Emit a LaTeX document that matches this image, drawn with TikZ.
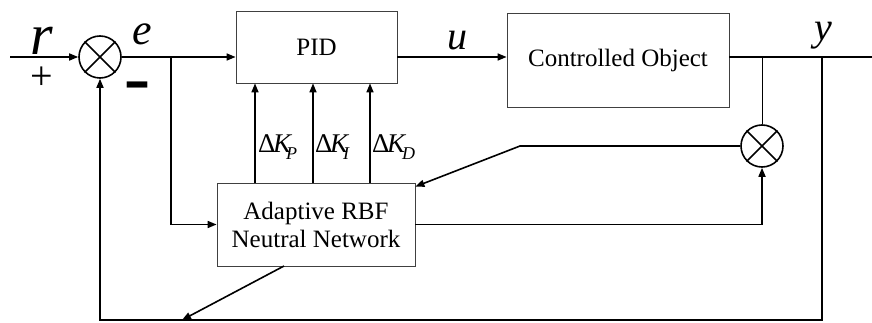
\documentclass[tikz,border=0pt]{standalone}
\usepackage{fontspec}
\setmainfont{Liberation Serif}
\usetikzlibrary{arrows.meta,calc}
\begin{document}
\begin{tikzpicture}[x=1pt,y=-1pt,
  blk/.style={draw=black!75,line width=0.8pt,inner sep=0pt,align=center,font=\fontsize{25}{28}\selectfont},
  sumc/.style={circle,draw,line width=1.6pt,minimum size=42pt,inner sep=0pt},
  sig/.style={line width=1.6pt},
  arr/.style={sig,-{Triangle[length=9pt,width=7pt]}},
  lab/.style={inner sep=0pt,font=\fontsize{40}{44}\selectfont\itshape},
  klab/.style={inner sep=0pt,anchor=west,font=\fontsize{27}{32}\selectfont}]
\useasboundingbox (0,0) rectangle (872,323);
% blocks
\node[blk,minimum width=161pt,minimum height=72pt] (pid) at (316.5,47) {PID};
\node[blk,minimum width=222pt,minimum height=94pt] (co) at (618,60) {Controlled Object};
\node[blk,minimum width=198pt,minimum height=83pt] (nn) at (316,224.5) {Adaptive RBF\\Neutral Network};
\node[sumc] (s1) at (100,57) {};
\node[sumc] (s2) at (762,146) {};
\draw[line width=1.6pt] (s1.north west) -- (s1.south east) (s1.north east) -- (s1.south west);
\draw[line width=1.6pt] (s2.north west) -- (s2.south east) (s2.north east) -- (s2.south west);
% coordinates
\coordinate (in) at (10,57);
\coordinate (b1) at (171,57);
\coordinate (b2) at (762,57);
\coordinate (b3) at (822,57);
\coordinate (out) at (872,57);
\coordinate (bb) at (822,320);
\coordinate (bl) at (100,320);
\coordinate (fb) at (182,320);
\coordinate (bend) at (520,146);
% signals
\draw[arr] (in) -- (s1.west);
\draw[arr] (s1.east) -- (s1.east -| pid.west);
\draw[arr] (b1) |- (nn.west);
\draw[arr] (pid.east |- s1) -- (s1 -| co.west);
\draw[sig] (co.east |- s1) -- (out);
\draw[line width=0.8pt] (b2) -- (s2.north);
\draw[arr] (b3) -- (bb) -- (bl) -- (s1.south);
\draw[arr] (284,266) -- (fb);
\foreach \x in {255,313,370} \draw[arr] (nn.north -| \x,0) -- (pid.south -| \x,0);
\draw[arr] (s2.west) -- (bend) -- ([yshift=-4pt]nn.north east);
\draw[arr] (nn.east) -- (nn.east -| s2) -- (s2.south);
% labels
\node[lab,font=\fontsize{58}{64}\selectfont\itshape] (lr) at (42,41) {r};
\node[lab,font=\fontsize{44}{48}\selectfont\itshape] (le) at (142,34) {e};
\node[lab] (lu) at (457,41) {u};
\node[lab] (ly) at (823,36) {y};
\node[inner sep=0pt,font=\fontsize{40}{44}\selectfont] (lplus) at (42,78) {+};
\node[inner sep=0pt,anchor=north,font=\fontsize{40}{44}\selectfont\bfseries] (lminus) at (137,82) {\scalebox{1}[2.2]{–}};
\node[klab] (kp) at (258,147) {Δ\kern-2.5pt\textit{K}\kern-6pt\raisebox{-7pt}{\fontsize{18}{22}\selectfont\textit{P}}};
\node[klab] (ki) at (315,147) {Δ\kern-2.5pt\textit{K}\kern-6pt\raisebox{-7pt}{\fontsize{18}{22}\selectfont\textit{I}}};
\node[klab] (kd) at (372,147) {Δ\kern-2.5pt\textit{K}\kern-4pt\raisebox{-7pt}{\fontsize{18}{22}\selectfont\textit{D}}};
\end{tikzpicture}
\end{document}
